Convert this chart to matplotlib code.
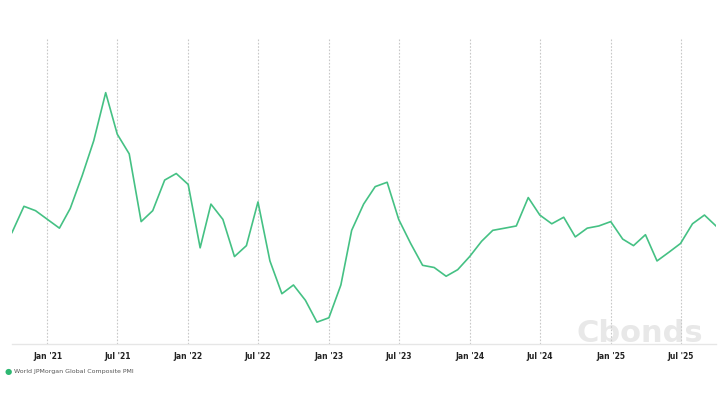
import pandas as pd
import matplotlib.pyplot as plt
import matplotlib.dates as mdates

# monthly readings, Oct 2020 .. Oct 2025
months = pd.date_range("2020-10-01", "2025-10-01", freq="MS")
pmi = [
    52.1, 53.3, 53.1,
    52.7, 52.3, 53.2, 54.7, 56.3, 58.5, 56.6, 55.7, 52.6, 53.1, 54.5, 54.8,
    54.3, 51.4, 53.4, 52.7, 51.0, 51.5, 53.5, 50.8, 49.3, 49.7, 49.0, 48.0,
    48.2, 49.7, 52.2, 53.4, 54.2, 54.4, 52.7, 51.6, 50.6, 50.5, 50.1, 50.4,
    51.0, 51.7, 52.2, 52.3, 52.4, 53.7, 52.9, 52.5, 52.8, 51.9, 52.3, 52.4,
    52.6, 51.8, 51.5, 52.0, 50.8, 51.2, 51.6, 52.5, 52.9, 52.4,
]
tick_dates = pd.date_range("2021-01-01", "2025-07-01", freq="6MS")
tick_labels = [d.strftime("%b '%y") for d in tick_dates]
series_name = "World JPMorgan Global Composite PMI"

fig = plt.figure(figsize=(7.22, 4.03), dpi=100)
ax = fig.add_axes([12 / 722, 59 / 403, 704 / 722, 306 / 403])

ax.plot(months, pmi, color="#45c184", lw=1.2, zorder=3)

ax.set_xlim(months[0], months[-1])
ax.set_ylim(47.0, 61.0)
ax.set_xticks(tick_dates)
ax.set_xticklabels(tick_labels, fontsize=5.5, fontweight="bold", color="#222222")
ax.tick_params(axis="x", length=0, pad=6)
ax.set_yticks([])
ax.grid(axis="x", color="#c8c8c8", ls=(0, (1.5, 1.5)), lw=0.8)

for s in ["top", "left", "right"]:
    ax.spines[s].set_visible(False)
ax.spines["bottom"].set_color("#e6e6e6")
ax.spines["bottom"].set_linewidth(1.0)

# watermark
ax.text(0.9815, 0.008, "Cbonds", transform=ax.transAxes, ha="right", va="baseline",
        fontsize=22, fontweight="bold", color="#e8e8e8", zorder=0)

# legend
fig.text(8 / 722, 1 - 371.5 / 403, "\u25CF", color="#2eb872", fontsize=6,
         ha="center", va="center")
fig.text(14 / 722, 1 - 371.5 / 403, series_name, color="#555555", fontsize=4.5,
         ha="left", va="center")

fig.savefig("out.png", dpi=100)
